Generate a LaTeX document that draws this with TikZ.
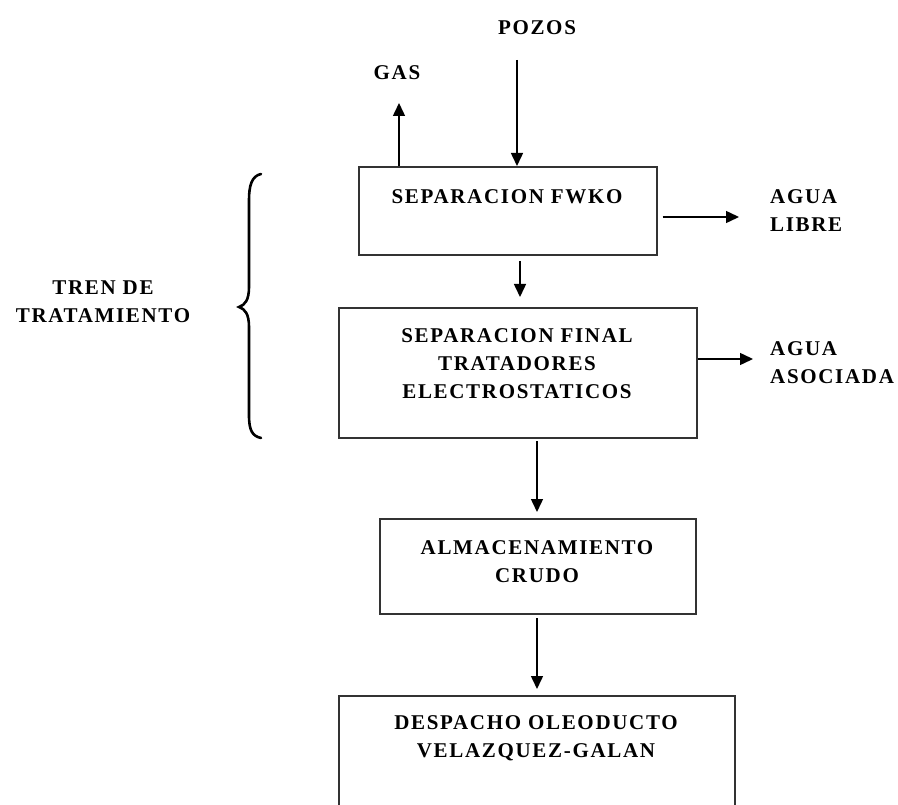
\documentclass[tikz,border=0pt]{standalone}
\usepackage{fontspec}
\setmainfont{Liberation Serif}[LetterSpace=8]
\usetikzlibrary{arrows.meta,calc}
\begin{document}
\begin{tikzpicture}[x=1pt,y=-1pt,
  box/.style={draw=black!80, line width=1.6pt, inner sep=0pt, anchor=north west},
  lbl/.style={font=\bfseries\fontsize{21}{28}\selectfont, align=center, inner sep=0pt},
  arr/.style={-{Triangle[length=13pt,width=12pt]}, line width=1.5pt}]
\useasboundingbox (0,0) rectangle (898,805);
% boxes
\node[box, minimum width=298pt, minimum height=88pt] (b1) at (358,166) {};
\node[box, minimum width=358pt, minimum height=130pt] (b2) at (338,307) {};
\node[box, minimum width=316pt, minimum height=95pt] (b3) at (379,518) {};
\node[box, minimum width=396pt, minimum height=118pt] (b4) at (338,695) {};
% texts
\node[lbl] (t1) at (507,197) {SEPARACION FWKO};
\node[lbl] (t2) at (517,364) {SEPARACION FINAL\\TRATADORES\\ELECTROSTATICOS};
\node[lbl] (t3) at (537,562) {ALMACENAMIENTO\\CRUDO};
\node[lbl] (t4) at (536,738) {DESPACHO OLEODUCTO\\VELAZQUEZ-GALAN};
\node[lbl] (pozos) at (537,28) {POZOS};
\node[lbl] (gas) at (397,73) {GAS};
\node[lbl, anchor=west, align=left] (libre) at (770,211) {AGUA\\LIBRE};
\node[lbl, anchor=west, align=left] (asoc) at (770,363) {AGUA\\ASOCIADA};
\node[lbl] (tren) at (103,302) {TREN DE\\TRATAMIENTO};
% connector end points
\coordinate (pz0) at (517,60);
\coordinate (gs1) at (399,103);
\coordinate (lb1) at (739,217);
\coordinate (as1) at (753,359);
\coordinate (a12) at (520,261);
\coordinate (a23) at (537,441);
\coordinate (a34) at (537,618);
% arrows
\draw[arr] (pz0) -- (pz0 |- b1.north);
\draw[arr] (gs1 |- b1.north) -- (gs1);
\draw[arr] ($(b1.east |- lb1)+(5,0)$) -- (lb1);
\draw[arr] (b2.east |- as1) -- (as1);
\draw[arr] (a12) -- ($(a12 |- b2.north)+(0,-10)$);
\draw[arr] (a23) -- ($(a23 |- b3.north)+(0,-6)$);
\draw[arr] (a34) -- ($(a34 |- b4.north)+(0,-6)$);
% brace
\draw[line width=2.6pt, line cap=round] (261,174) .. controls (252,176) and (249,185) .. (249,200)
  -- (249,287) .. controls (249,300) and (245,305) .. (239,307)
  .. controls (245,309) and (249,314) .. (249,327)
  -- (249,415) .. controls (249,430) and (252,436) .. (261,438);
\end{tikzpicture}
\end{document}
